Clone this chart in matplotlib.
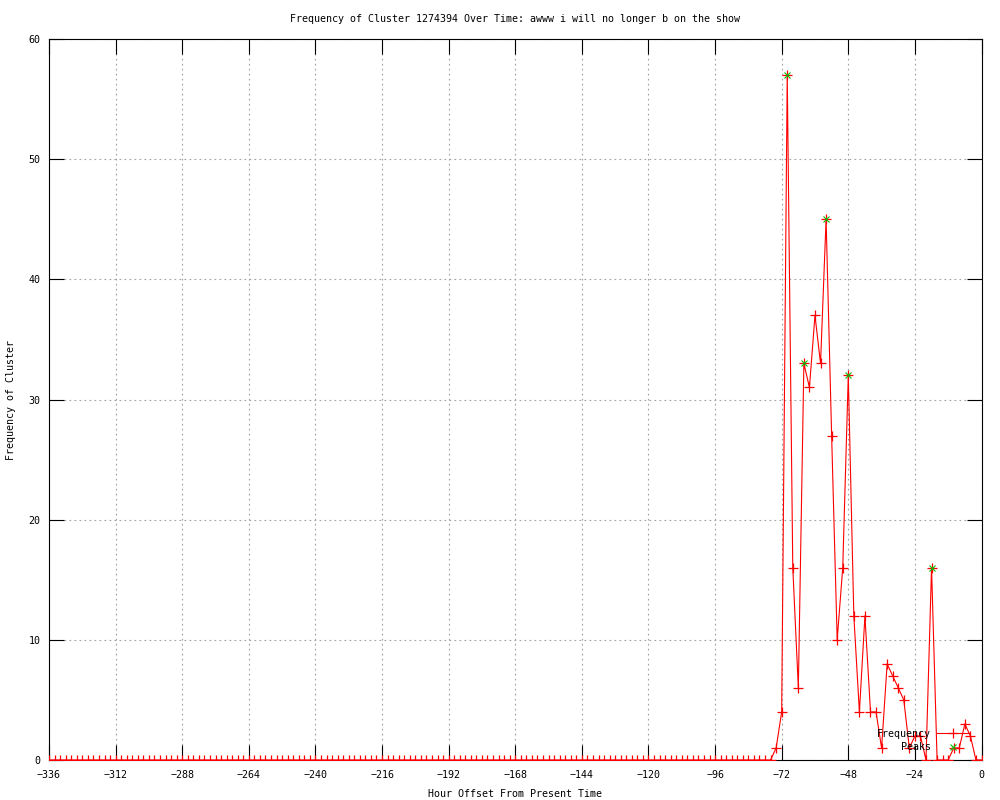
import matplotlib
matplotlib.use('Agg')
import matplotlib.pyplot as plt
import numpy as np

plt.rcParams.update({'font.size': 7.2, 'font.family': 'DejaVu Sans Mono'})

# hourly offsets, sampled every 2 hours
hours = np.arange(-336, 1, 2)
# non-zero counts from -74 onward (everything earlier is zero)
tail_hours = [-74, -72, -70, -68, -66, -64, -62, -60, -58, -56, -54, -52, -50,
              -48, -46, -44, -42, -40, -38, -36, -34, -32, -30, -28, -26, -24,
              -22, -20, -18, -16, -14, -12, -10, -8, -6, -4, -2, 0]
tail_counts = [1, 4, 57, 16, 6, 33, 31, 37, 33, 45, 27, 10, 16,
               32, 12, 4, 12, 4, 4, 1, 8, 7, 6, 5, 1, 2,
               2, 0, 16, 0, 0, 0, 1, 1, 3, 2, 0, 0]
peak_hours = [-70, -64, -56, -48, -18]
peak_counts = [57, 33, 45, 32, 16]

freq = np.zeros(len(hours))
for h, c in zip(tail_hours, tail_counts):
    freq[hours == h] = c

fig = plt.figure(figsize=(10, 8), dpi=100)
ax = fig.add_axes([0.049, 0.05, 0.9325, 0.90125])

ax.plot(hours, freq, color='#ff0000', lw=0.8, marker='+', ms=7, mew=0.9,
        label='Frequency', zorder=3)
ax.plot(peak_hours, peak_counts, ls='none', color='#00c000', marker='x', ms=5,
        mew=0.8, label='Peaks', zorder=4)

ax.set_xlim(-336, 0)
ax.set_ylim(0, 60)
ax.set_xticks(np.arange(-336, 1, 24))
ax.set_yticks(np.arange(0, 61, 10))
ax.tick_params(direction='in', length=11, width=0.8, top=True, right=True)
ax.tick_params(axis='x', pad=7)
ax.tick_params(axis='y', pad=6)
ax.grid(True, color='#a0a0a0', linestyle=(0, (1.5, 3)), lw=0.8)
for s in ax.spines.values():
    s.set_linewidth(0.8)

ax.set_title('Frequency of Cluster 1274394 Over Time: awww i will no longer b on the show',
             fontsize=7.2, pad=12)
ax.set_xlabel('Hour Offset From Present Time', labelpad=6.5)
ax.set_ylabel('Frequency of Cluster', labelpad=9)

ax.legend(loc='lower right', bbox_to_anchor=(0.993, 0.004), frameon=False,
          markerfirst=False, handlelength=3.3, handletextpad=0.6,
          labelspacing=0.35, borderpad=0, numpoints=1)

plt.savefig('out.png', dpi=100)
